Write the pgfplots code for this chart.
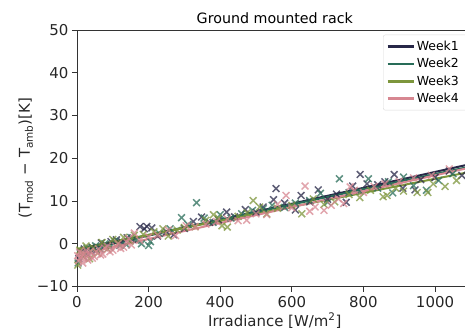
\documentclass[border=0pt]{standalone}
\usepackage{fontspec}
\setmainfont{DejaVu Sans}
\usepackage{pgfplots}
\pgfplotsset{compat=1.18}
\definecolor{wkone}{RGB}{40,40,72}
\definecolor{wktwo}{RGB}{40,108,88}
\definecolor{wkthree}{RGB}{125,150,60}
\definecolor{wkfour}{RGB}{215,135,145}
\begin{document}
\begin{tikzpicture}
\begin{axis}[
  at={(0,0)}, anchor=south west,
  scale only axis, width=395.6bp, height=256.5bp,
  xmin=0, xmax=1105, ymin=-10, ymax=50,
  xtick={0,200,400,600,800,1000},
  ytick={-10,0,10,20,30,40,50},
  yticklabels={−10,0,10,20,30,40,50},
  xticklabels={0,200,400,600,800,1000},
  tick align=outside, major tick length=5bp,
  xtick pos=bottom, ytick pos=left,
  tick style={black!80, line width=0.9bp},
  axis line style={black!80, line width=0.9bp},
  tick label style={font=\fontsize{15}{18}\selectfont, text=black!85},
  xticklabel style={yshift=-1bp},
  title={Ground mounted rack},
  title style={font=\fontsize{14.3}{17}\selectfont, yshift=-3bp},
  xlabel={Irradiance [W/m\textsuperscript{2}]},
  ylabel={(T\textsubscript{mod} − T\textsubscript{amb})[K]},
  label style={font=\fontsize{15}{18}\selectfont, text=black!85},
  xlabel style={yshift=1bp},
  ylabel style={yshift=-3bp},
  legend style={at={(axis cs:855,48.9)}, anchor=north west,
    font=\fontsize{12.5}{15}\selectfont, draw=black!15, rounded corners=2bp,
    fill=white, fill opacity=0.8, text opacity=1, row sep=2.5bp,
    inner xsep=3bp, inner ysep=4bp, nodes={text width=48bp, align=left}},
  legend cell align=left,
  legend image code/.code={\draw[#1, line width=2.5bp] (0bp,0bp) -- (26bp,0bp);},
]
% scatter week1
\addplot[only marks, mark=x, mark size=4.8bp, color=wkone, opacity=0.75, mark options={line width=1.5bp}, forget plot] coordinates {
(5,-3.5)(12,-2.0)(20,-1.2)(30,-2.5)(42,-0.8)(55,-1.5)(68,0.2)(80,-0.3)(95,0.5)(110,0.9)(125,0.4)(140,1.4)(155,1.0)(176,4.0)(188,3.5)(195,4.05)(209,3.7)(225,1.8)(250,2.8)(270,2.1)(300,3.6)(325,5.2)(348,6.25)(370,5.0)(395,5.6)(418,7.4)(440,6.3)(470,8.0)(500,7.4)(520,8.6)(549,10.3)(556,12.9)(580,9.5)(610,7.9)(626,11.3)(650,9.8)(674,12.6)(700,10.4)(725,11.6)(752,9.7)(770,13.5)(791,16.2)(810,14.0)(840,13.8)(860,14.5)(886,16.2)(910,13.0)(944,12.6)(960,15.0)(1000,15.5)(1040,17.0)(1075,16.0)
};
% scatter week2
\addplot[only marks, mark=x, mark size=4.8bp, color=wktwo, opacity=0.75, mark options={line width=1.5bp}, forget plot] coordinates {
(3,-4.5)(10,-2.2)(18,-3.0)(28,-1.0)(40,-2.0)(52,-0.5)(65,-1.3)(78,0.0)(92,-0.8)(105,0.6)(120,-0.4)(138,-0.2)(150,1.5)(165,0.8)(180,0.0)(200,-0.4)(205,0.5)(230,2.4)(260,3.5)(292,6.1)(310,4.5)(334,9.6)(355,6.0)(380,5.0)(400,6.8)(430,6.0)(460,7.0)(490,7.8)(520,8.2)(545,9.0)(580,8.5)(610,9.5)(650,10.1)(680,11.8)(700,9.7)(733,15.2)(760,12.0)(790,12.3)(814,15.2)(840,13.0)(870,14.5)(882,11.9)(912,15.6)(940,13.6)(976,12.5)(1010,14.8)(1050,16.4)
};
% scatter week3
\addplot[only marks, mark=x, mark size=4.8bp, color=wkthree, opacity=0.75, mark options={line width=1.5bp}, forget plot] coordinates {
(2,-5.0)(8,-1.5)(15,-2.8)(25,-0.5)(35,-3.5)(45,-1.0)(58,-2.2)(70,0.3)(85,-1.2)(100,1.0)(115,0.2)(130,1.5)(148,0.6)(160,2.0)(185,2.2)(215,2.8)(240,3.5)(255,1.8)(280,3.2)(300,3.8)(330,4.0)(360,5.5)(381,6.8)(395,6.0)(405,4.2)(420,3.9)(450,6.4)(475,7.2)(492,10.1)(510,8.6)(530,7.0)(560,8.3)(600,9.0)(628,7.0)(660,10.5)(690,9.2)(720,9.8)(760,11.5)(790,10.8)(820,12.5)(855,11.0)(866,11.3)(890,13.0)(912,12.3)(950,12.0)(980,12.0)(995,14.0)(1028,13.4)(1060,14.8)
};
% scatter week4
\addplot[only marks, mark=x, mark size=4.8bp, color=wkfour, opacity=0.75, mark options={line width=1.5bp}, forget plot] coordinates {
(2,-2.8)(4,-4.0)(7,-1.9)(10,-3.2)(13,-2.2)(16,-4.5)(19,-3.4)(22,-2.4)(26,-1.6)(30,-3.8)(34,-2.7)(38,-1.8)(43,-3.4)(48,-3.0)(53,-1.9)(60,-1.2)(66,-2.6)(72,-2.4)(78,-1.0)(85,-0.6)(92,-1.9)(100,-1.5)(108,-0.6)(115,0.0)(122,-1.1)(130,-0.8)(138,0.4)(145,1.2)(152,-0.3)(160,2.5)(175,0.8)(200,1.6)(225,2.0)(255,3.2)(275,1.9)(305,4.2)(330,4.0)(360,4.6)(390,5.2)(420,5.8)(450,5.4)(474,5.5)(500,7.0)(530,6.8)(560,9.2)(584,11.3)(600,8.4)(637,13.5)(650,7.6)(665,8.6)(690,7.8)(710,9.0)(730,10.5)(745,9.4)(763,13.3)(775,12.5)(800,12.0)(830,13.4)(860,14.0)(900,14.6)(940,15.4)(990,16.0)(1040,17.5)
};
% regression lines
\addplot[color=wkone, line width=2bp] coordinates {(0,-1.8)(1105,18.75)};
\addlegendentry{Week1}
\addplot[color=wktwo, line width=2bp] coordinates {(0,-1.5)(1105,18.17)};
\addlegendentry{Week2}
\addplot[color=wkthree, line width=2bp] coordinates {(0,-1.2)(1105,16.92)};
\addlegendentry{Week3}
\addplot[color=wkfour, line width=2bp] coordinates {(0,-2.6)(1105,17.95)};
\addlegendentry{Week4}
\end{axis}
\pgfresetboundingbox
\path[use as bounding box] (-77bp,-42.5bp) rectangle (388bp,286.5bp);
\end{tikzpicture}
\end{document}
